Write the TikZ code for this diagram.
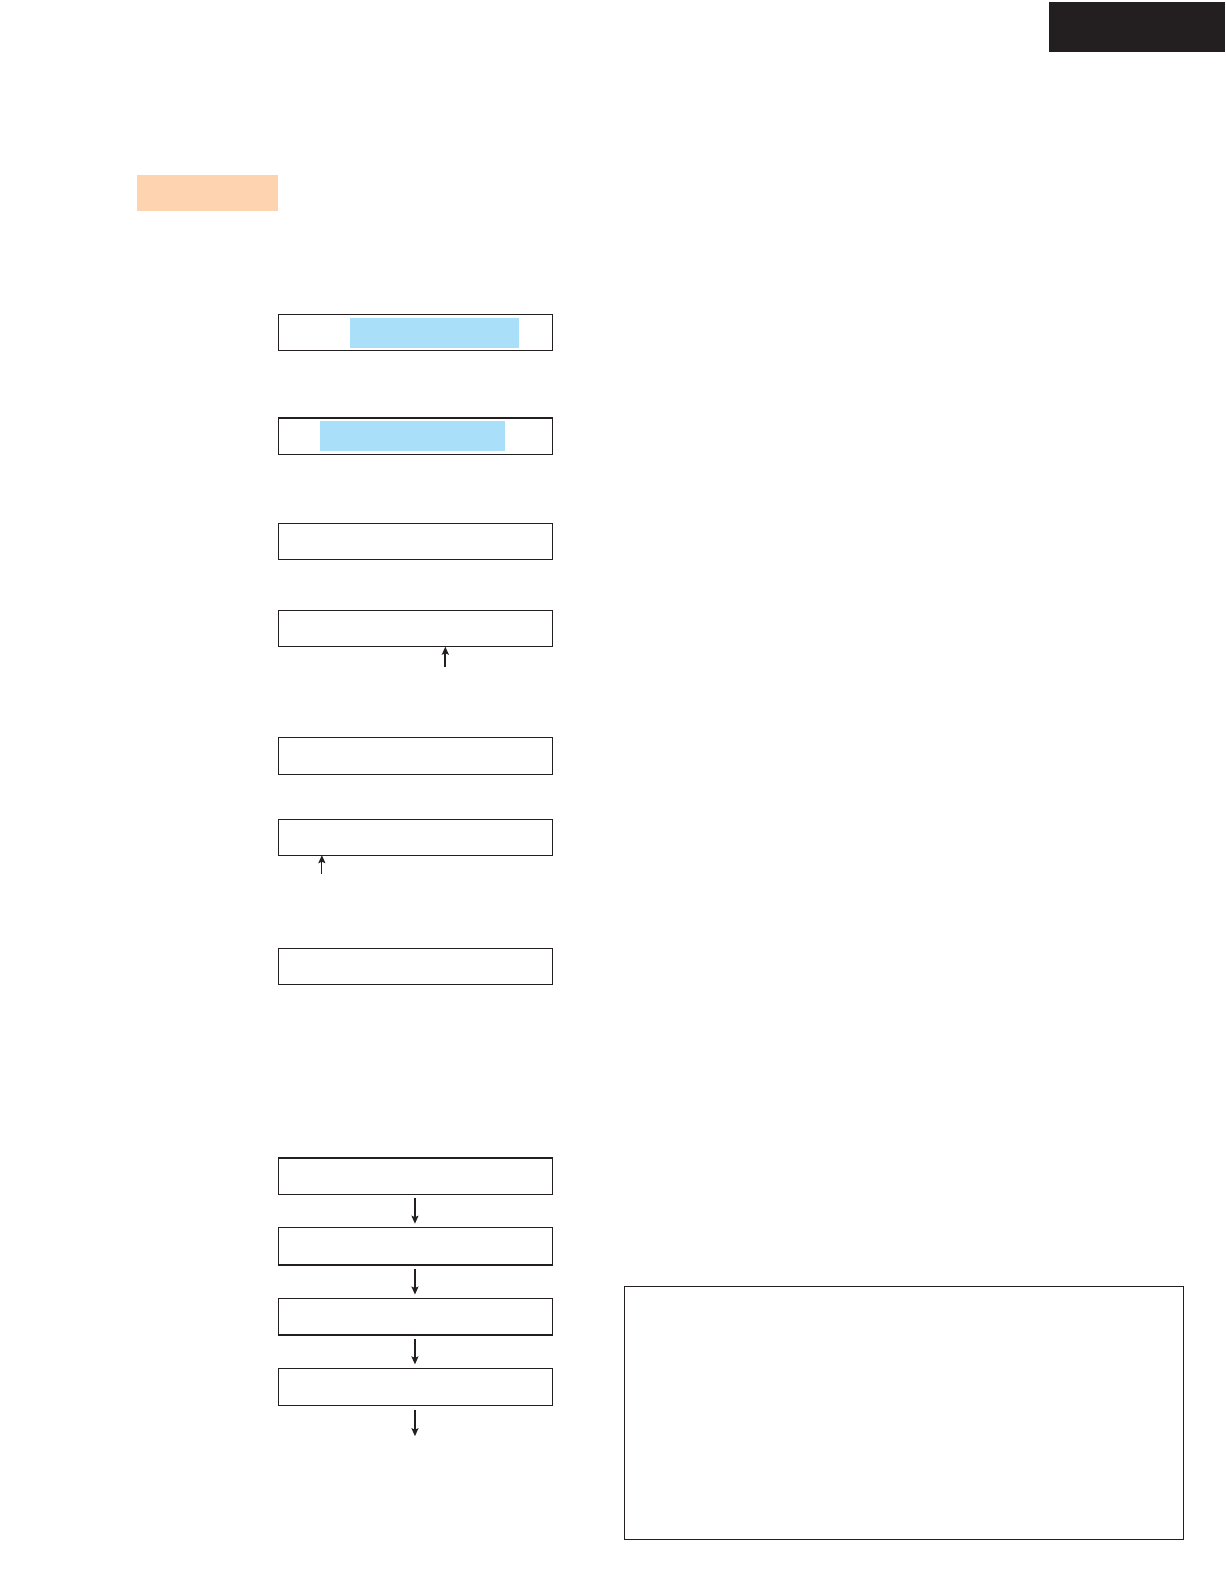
\documentclass[tikz,border=0pt]{standalone}
\usetikzlibrary{arrows.meta}
\definecolor{tabblack}{HTML}{231F20}
\definecolor{orangehl}{HTML}{FDD3B0}
\definecolor{bluehl}{HTML}{A9DFF8}
\begin{document}
\begin{tikzpicture}[x=1.0121pt,y=-1.0121pt,
  stepbox/.style={draw=tabblack,line width=1.3pt,fill=white,inner sep=0pt,outer sep=0pt,anchor=north west,minimum width=274.3pt},
  flow/.style={draw=tabblack,line width=1.2pt,-{Stealth[length=8pt,width=7pt,inset=1.5pt]}},
  boldflow/.style={flow,line width=1.7pt}]
\useasboundingbox (0,0) rectangle (1211.3,1567.05);
% top right tab
\fill[tabblack] (1036,2) rectangle (1210,51);
% orange heading bar
\fill[orangehl] (135,173) rectangle (275,208);
% upper boxes
\node[stepbox,minimum height=35.4pt] (b1) at (275,311) {};
\fill[bluehl] (346,314) rectangle (513,344);
\node[stepbox,minimum height=36.4pt] (b2) at (275,413) {};
\fill[bluehl] (316,416) rectangle (499,446);
\node[stepbox,minimum height=36.4pt] (b3) at (275,517) {};
\node[stepbox,minimum height=36.4pt] (b4) at (275,603) {};
\coordinate (a4s) at (440,659);
\draw[boldflow] (a4s) -- (b4.south -| a4s);
\node[stepbox,minimum height=36.4pt] (b5) at (275,729) {};
\node[stepbox,minimum height=35.4pt] (b6) at (275,810) {};
\coordinate (a6s) at (318,864);
\draw[flow] (a6s) -- (b6.south -| a6s);
\node[stepbox,minimum height=36.4pt] (b7) at (275,937) {};
% chain
\node[stepbox,minimum height=36.4pt] (c1) at (275,1144) {};
\node[stepbox,minimum height=37.4pt] (c2) at (275,1213) {};
\node[stepbox,minimum height=36.4pt] (c3) at (275,1283) {};
\node[stepbox,minimum height=37.4pt] (c4) at (275,1352) {};
\coordinate (c5) at (410,1419);
\draw[flow] ([yshift=-4pt]c1.south -| c5) -- ([yshift=4pt]c2.north -| c5);
\draw[flow] ([yshift=-4pt]c2.south -| c5) -- ([yshift=4pt]c3.north -| c5);
\draw[flow] ([yshift=-4pt]c3.south -| c5) -- ([yshift=4pt]c4.north -| c5);
\draw[flow] ([yshift=-4pt]c4.south -| c5) -- (c5);
% big box
\node[stepbox,minimum width=558.7pt,minimum height=253pt] (big) at (617,1271) {};
\end{tikzpicture}
\end{document}
